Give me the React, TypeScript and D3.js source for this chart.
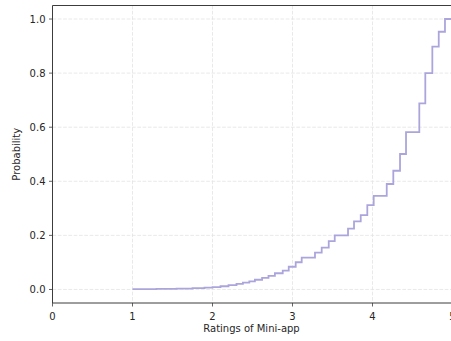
import React from "react";
import * as d3 from "d3";

// ECDF of mini-app ratings: each step position and the cumulative probability reached there
const ratingSteps = [
  1.0, 1.3, 1.55, 1.75, 1.9, 2.0, 2.1, 2.2, 2.3, 2.38, 2.46, 2.53, 2.62, 2.7, 2.78,
  2.878, 2.953, 3.04, 3.115, 3.281, 3.365, 3.453, 3.528, 3.694, 3.769, 3.853, 3.935,
  4.015, 4.178, 4.26, 4.344, 4.419, 4.585, 4.66, 4.748, 4.828, 4.906, 5.0,
];
const cumulativeProb = [
  0.001, 0.002, 0.003, 0.005, 0.007, 0.009, 0.012, 0.016, 0.021, 0.025, 0.03, 0.036,
  0.043, 0.05, 0.06, 0.0695, 0.084, 0.1006, 0.1176, 0.136, 0.1545, 0.179, 0.2, 0.225,
  0.252, 0.275, 0.312, 0.346, 0.39, 0.439, 0.501, 0.582, 0.688, 0.8, 0.898, 0.953,
  1.0, 1.0,
];
const xTicks = [0, 1, 2, 3, 4, 5];
const yTicks = [0, 0.2, 0.4, 0.6, 0.8, 1.0];

const W = 451;
const H = 341;
const left = 52.5;
const right = 452.5;
const top = 5.5;
const bottom = 303;

const FONT = "'DejaVu Sans', sans-serif";
const TEXT = "#262626";
const SPINE = "#3c3c3c";

export default function App() {
  const x = d3.scaleLinear().domain([0, 5]).range([left, right]);
  const y = d3.scaleLinear().domain([-0.05, 1.05]).range([bottom, top]);

  const points = ratingSteps.map((v, i) => [v, cumulativeProb[i]] as [number, number]);
  const line = d3
    .line<[number, number]>()
    .x((d) => x(d[0]))
    .y((d) => y(d[1]))
    .curve(d3.curveStepAfter);

  return (
    <svg
      width={W}
      height={H}
      style={{ position: "absolute", left: 0, top: 0, background: "#fff" }}
    >
      <defs>
        <clipPath id="plot">
          <rect x={left} y={top} width={right - left} height={bottom - top} />
        </clipPath>
      </defs>
      <rect x={0} y={0} width={W} height={H} fill="#fff" />

      {/* grid */}
      <g stroke="#e3e3e3" strokeWidth={0.8} strokeDasharray="3.7,1.6">
        {xTicks.map((t) => (
          <line key={"gx" + t} x1={x(t)} x2={x(t)} y1={top} y2={bottom} />
        ))}
        {yTicks.map((t) => (
          <line key={"gy" + t} x1={left} x2={right} y1={y(t)} y2={y(t)} />
        ))}
      </g>

      {/* ECDF line */}
      <path
        d={line(points) || ""}
        fill="none"
        stroke="#aba5dc"
        strokeWidth={1.8}
        clipPath="url(#plot)"
      />

      {/* spines */}
      <g stroke={SPINE} strokeWidth={1} fill="none">
        <line x1={left} x2={left} y1={top} y2={bottom} />
        <line x1={left} x2={right} y1={bottom} y2={bottom} />
        <line x1={left} x2={right} y1={top} y2={top} />
        <line x1={right} x2={right} y1={top} y2={bottom} />
      </g>

      {/* x axis ticks */}
      <g fontFamily={FONT} fontSize={10} fill={TEXT}>
        {xTicks.map((t) => (
          <g key={"xt" + t}>
            <line x1={x(t)} x2={x(t)} y1={bottom} y2={bottom + 3.5} stroke={SPINE} strokeWidth={0.8} />
            <text x={x(t)} y={320} textAnchor="middle">
              {d3.format("d")(t)}
            </text>
          </g>
        ))}
        <text x={(left + right) / 2 - 1} y={332} textAnchor="middle">
          Ratings of Mini-app
        </text>
      </g>

      {/* y axis ticks */}
      <g fontFamily={FONT} fontSize={10} fill={TEXT}>
        {yTicks.map((t) => (
          <g key={"yt" + t}>
            <line x1={left - 3.5} x2={left} y1={y(t)} y2={y(t)} stroke={SPINE} strokeWidth={0.8} />
            <text x={left - 7} y={y(t)} dy="0.35em" textAnchor="end">
              {d3.format(".1f")(t)}
            </text>
          </g>
        ))}
        <text
          transform={`translate(19.5, ${(top + bottom) / 2}) rotate(-90)`}
          textAnchor="middle"
        >
          Probability
        </text>
      </g>
    </svg>
  );
}
